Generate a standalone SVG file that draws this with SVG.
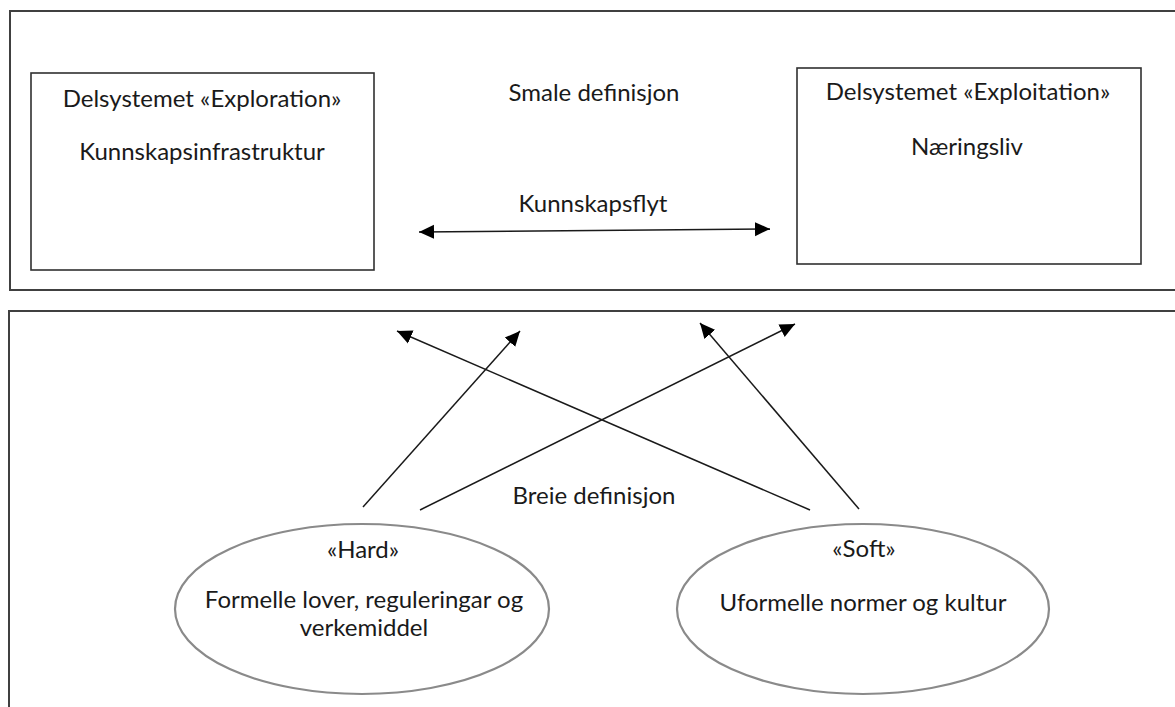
<svg xmlns="http://www.w3.org/2000/svg" width="1175" height="707" viewBox="0 0 1175 707">
  <style>
    .frame { fill: none; stroke: #404040; stroke-width: 2; }
    .box { fill: #ffffff; stroke: #303030; stroke-width: 1.6; }
    .ell { fill: #ffffff; stroke: #8a8a8a; stroke-width: 2.2; }
    .lbl { font-family: Lato, "Open Sans", "Liberation Sans", sans-serif; font-size: 24px; fill: #1a1a1a; text-anchor: middle; }
    .conn { fill: none; stroke: #1a1a1a; stroke-width: 1.5; }
  </style>
  <defs>
    <marker id="arrow" markerUnits="userSpaceOnUse" markerWidth="16" markerHeight="16" viewBox="0 0 16 14" refX="15" refY="7" orient="auto-start-reverse">
      <path d="M0,0 L15,7 L0,14 z" fill="#000000"/>
    </marker>
  </defs>
  <rect width="1175" height="707" fill="#ffffff"/>

  <g id="frame-smale">
    <rect class="frame" x="10" y="11" width="1185" height="279"/>
    <text class="lbl" x="594" y="101">Smale definisjon</text>
  </g>
  <g id="frame-breie">
    <rect class="frame" x="9" y="311" width="1185" height="420"/>
    <text class="lbl" x="594" y="504">Breie definisjon</text>
  </g>

  <g id="node-exploration">
    <rect class="box" x="31" y="73" width="343" height="197"/>
    <text class="lbl" x="202" y="107">Delsystemet «Exploration»</text>
    <text class="lbl" x="202" y="160">Kunnskapsinfrastruktur</text>
  </g>
  <g id="node-exploitation">
    <rect class="box" x="797" y="68" width="344" height="196"/>
    <text class="lbl" x="968" y="100">Delsystemet «Exploitation»</text>
    <text class="lbl" x="967" y="155">Næringsliv</text>
  </g>

  <g id="node-hard">
    <ellipse class="ell" cx="362" cy="609" rx="187" ry="85"/>
    <text class="lbl" x="363" y="558">«Hard»</text>
    <text class="lbl" x="364" y="608">Formelle lover, reguleringar og</text>
    <text class="lbl" x="364" y="636">verkemiddel</text>
  </g>
  <g id="node-soft">
    <ellipse class="ell" cx="863" cy="609" rx="186" ry="85"/>
    <text class="lbl" x="864" y="557">«Soft»</text>
    <text class="lbl" x="863" y="611">Uformelle normer og kultur</text>
  </g>

  <g id="connectors">
    <line class="conn" x1="419" y1="232" x2="770" y2="229" marker-start="url(#arrow)" marker-end="url(#arrow)"/>
    <text class="lbl" x="593" y="212">Kunnskapsflyt</text>
    <line class="conn" x1="810" y1="510" x2="397" y2="331" marker-end="url(#arrow)"/>
    <line class="conn" x1="363" y1="507" x2="520" y2="331" marker-end="url(#arrow)"/>
    <line class="conn" x1="420" y1="510" x2="795" y2="324" marker-end="url(#arrow)"/>
    <line class="conn" x1="859" y1="509" x2="700" y2="323" marker-end="url(#arrow)"/>
  </g>
</svg>
